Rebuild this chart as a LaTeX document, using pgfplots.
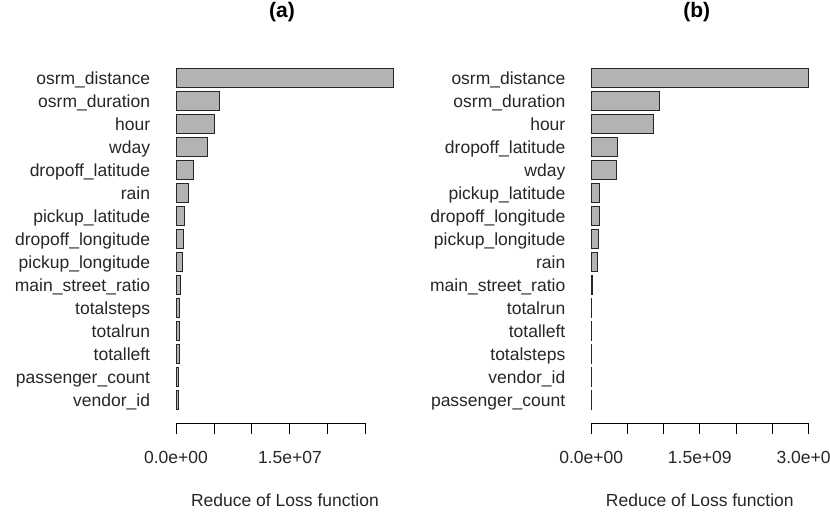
\documentclass[border=0pt]{standalone}
\usepackage{fontspec}
\setmainfont{Liberation Sans}
\usepackage{pgfplots}
\pgfplotsset{compat=1.18}
\definecolor{barfill}{RGB}{179,179,179}
\pgfplotsset{
  rbar/.style={
    scale only axis,
    anchor=south west,
    height=368bp,
    ymin=0, ymax=16,
    axis line style={draw=none},
    tick align=outside,
    major tick length=11bp,
    tick style={black, line width=0.9bp},
    ytick style={draw=none},
    ytick={1,...,15},
    xtick pos=bottom,
    ytick pos=left,
    scaled x ticks=false,
    /pgf/number format/assume math mode=true,
    yticklabel style={anchor=base east, inner sep=0pt, xshift=-6bp, yshift=-6.5bp,
      font=\fontsize{17.5bp}{21bp}\selectfont, text=black!85},
    xticklabel style={anchor=base, inner sep=0pt, yshift=-29bp,
      font=\fontsize{17.5bp}{21bp}\selectfont, text=black!85},
    xlabel style={at={(axis description cs:0.5,0)}, anchor=base, inner sep=0pt, yshift=-83bp,
      font=\fontsize{17.5bp}{21bp}\selectfont, text=black!85},
    title style={at={(axis description cs:0.5,1)}, anchor=center, inner sep=0pt, yshift=36.5bp, xshift=-3bp,
      font=\fontsize{21bp}{25bp}\selectfont\bfseries},
    xlabel={Reduce of Loss function},
    clip=false,
  },
  rplot/.style={xbar, bar width=0.8333, fill=barfill, draw=black!85, line width=1bp},
}
\begin{document}
\begin{tikzpicture}
\begin{axis}[rbar,
  at={(167.3bp,89bp)}, width=235.3bp,
  xmin=-1.148e6, xmax=2.985e7,
  title={(a)},
  xtick={0,5e6,1e7,1.5e7,2e7,2.5e7},
  xticklabels={0.0e+00,,,1.5e+07,,},
  yticklabels={vendor\_id,passenger\_count,totalleft,totalrun,totalsteps,main\_street\_ratio,pickup\_longitude,dropoff\_longitude,pickup\_latitude,rain,dropoff\_latitude,wday,hour,osrm\_duration,osrm\_distance},
]
\addplot[rplot] coordinates {
(0.30e6,1) (0.38e6,2) (0.44e6,3) (0.45e6,4) (0.46e6,5) (0.55e6,6) (0.88e6,7) (1.05e6,8) (1.09e6,9) (1.67e6,10) (2.24e6,11) (4.12e6,12) (5.04e6,13) (5.79e6,14) (2.87e7,15)
};
\draw[black, line width=0.9bp] (axis cs:0,0) -- (axis cs:2.5e7,0);
\end{axis}
\begin{axis}[rbar,
  at={(582.5bp,89bp)}, width=234.6bp,
  xmin=-1.2e8, xmax=3.12e9,
  title={(b)},
  xtick={0,5e8,1e9,1.5e9,2e9,2.5e9,3e9},
  xticklabels={0.0e+00,,,1.5e+09,,,3.0e+09},
  yticklabels={passenger\_count,vendor\_id,totalsteps,totalleft,totalrun,main\_street\_ratio,rain,pickup\_longitude,dropoff\_longitude,pickup\_latitude,wday,dropoff\_latitude,hour,osrm\_duration,osrm\_distance},
]
\addplot[rplot] coordinates {
(0.003e9,1) (0.004e9,2) (0.005e9,3) (0.006e9,4) (0.007e9,5) (0.02e9,6) (0.083e9,7) (0.10e9,8) (0.115e9,9) (0.12e9,10) (0.355e9,11) (0.36e9,12) (0.865e9,13) (0.94e9,14) (3.0e9,15)
};
\draw[black, line width=0.9bp] (axis cs:0,0) -- (axis cs:3e9,0);
\end{axis}
\pgfresetboundingbox
\useasboundingbox (0,0) rectangle (830bp,512bp);
\end{tikzpicture}
\end{document}
